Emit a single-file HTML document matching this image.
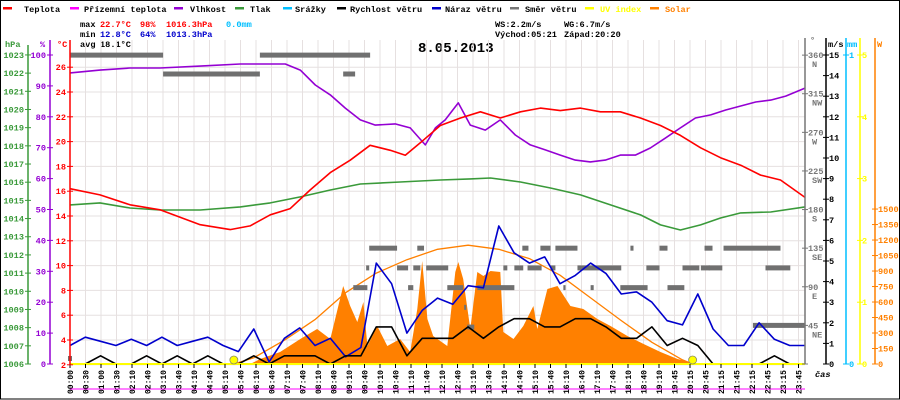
<!DOCTYPE html>
<html><head><meta charset="utf-8"><style>
html,body{margin:0;padding:0;background:#fff}
svg{display:block}
text{font-family:"Liberation Mono",monospace;font-weight:bold;font-size:8.6px}
</style></head><body>
<svg id="chart" width="900" height="400" viewBox="0 0 900 400" xmlns="http://www.w3.org/2000/svg">
<rect x="0.5" y="0.5" width="899" height="398.5" fill="#fff" stroke="#000" stroke-width="1"/>
<g>
 <g><rect x="3" y="7" width="9" height="2.5" fill="#f00"/><text x="24" y="12">Teplota</text></g>
 <g><rect x="70" y="7" width="9" height="2.5" fill="#f0f"/><text x="84" y="12">Přízemní teplota</text></g>
 <g><rect x="174" y="7" width="9" height="2.5" fill="#9400d3"/><text x="190" y="12">Vlhkost</text></g>
 <g><rect x="235" y="7" width="9" height="2.5" fill="#3a9a3a"/><text x="250" y="12">Tlak</text></g>
 <g><rect x="283" y="7" width="9" height="2.5" fill="#00bfff"/><text x="295" y="12">Srážky</text></g>
 <g><rect x="337" y="7" width="9" height="2.5" fill="#000"/><text x="350" y="12">Rychlost větru</text></g>
 <g><rect x="432" y="7" width="9" height="2.5" fill="#0000cc"/><text x="445" y="12">Náraz větru</text></g>
 <g><rect x="510" y="7" width="9" height="2.5" fill="#777"/><text x="525" y="12">Směr větru</text></g>
 <g><rect x="585" y="7" width="9" height="2.5" fill="#ff0"/><text x="600" y="12" fill="#ff0">UV index</text></g>
 <g><rect x="650" y="7" width="9" height="2.5" fill="#ff8000"/><text x="665" y="12" fill="#ff8000">Solar</text></g>
</g>
<g>
 <text x="80" y="27">max</text><text x="100" y="27" fill="#f00">22.7°C</text><text x="140" y="27" fill="#f00">98%</text><text x="166" y="27" fill="#f00">1016.3hPa</text><text x="226" y="27" fill="#00bfff">0.0mm</text>
 <text x="80" y="37">min</text><text x="100" y="37" fill="#0000cc">12.8°C</text><text x="140" y="37" fill="#0000cc">64%</text><text x="166" y="37" fill="#0000cc">1013.3hPa</text>
 <text x="80" y="47">avg</text><text x="100" y="47">18.1°C</text>
 <text x="495" y="27">WS:2.2m/s</text><text x="564" y="27">WG:6.7m/s</text>
 <text x="495" y="37">Východ:05:21</text><text x="564" y="37">Západ:20:20</text>
</g>
<text x="418" y="52" style="font-size:14px">8.05.2013</text>
<g>
 <text x="5" y="47" fill="#3a9a3a">hPa</text><text x="40" y="47" fill="#9400d3">%</text><text x="57" y="47" fill="#f00">°C</text>
 <text x="810" y="43" fill="#777">°</text><text x="828" y="47">m/s</text><text x="847" y="47" fill="#00bfff">mm</text><text x="877" y="47" fill="#ff8000">W</text>
 <text x="815" y="377" style="font-style:italic">čas</text>
</g>
<g id="grid"></g><g id="marks"></g><g id="axes"></g>
</svg>
<script>
const temperatureHours=[0,0.98,1.96,2.94,4.25,5.23,5.88,6.54,7.19,7.84,8.5,9.15,9.8,10.46,10.95,11.44,12.09,12.75,13.4,14.05,14.71,15.36,16.01,16.67,17.32,17.97,18.63,19.28,19.93,20.59,21.24,21.9,22.55,23.2,24];
const temperatureValues=[16.2,15.7,14.9,14.5,13.3,12.9,13.2,14.1,14.6,16.1,17.5,18.5,19.7,19.3,18.9,19.9,21.3,21.9,22.4,21.9,22.4,22.7,22.5,22.7,22.4,22.4,21.9,21.3,20.5,19.5,18.7,18.1,17.3,16.9,15.5];
const humidityHours=[0,0.98,1.96,2.94,4.25,5.56,6.54,7.03,7.52,8.01,8.5,8.99,9.48,9.97,10.62,11.11,11.6,11.93,12.25,12.68,13.07,13.56,14.05,14.54,15.03,15.52,16.01,16.5,16.99,17.48,17.97,18.46,18.95,19.44,19.93,20.42,20.92,21.41,21.9,22.39,22.88,23.37,24];
const humidityValues=[94.2,95.1,95.8,95.8,96.4,97.1,97.1,97.1,95.1,90.3,87.1,82.8,79,77.3,77.7,76.4,70.9,76.4,79,84.5,77.3,75.7,79,74.1,70.9,69.3,67.6,66,65.4,66,67.6,67.6,69.9,73.1,76.4,79.6,80.6,82.2,83.5,84.8,85.4,86.7,89.3];
const pressureHours=[0,0.98,1.96,2.94,4.25,5.56,6.54,7.52,8.5,9.48,10.78,12.09,13.07,13.73,14.71,15.69,16.67,17.65,18.63,19.28,19.93,20.59,21.24,21.9,22.88,24];
const pressureValues=[1014.75,1014.86,1014.58,1014.47,1014.47,1014.64,1014.86,1015.19,1015.57,1015.9,1016.01,1016.12,1016.18,1016.23,1016.01,1015.68,1015.3,1014.75,1014.2,1013.65,1013.37,1013.65,1014.03,1014.31,1014.36,1014.64];
const windSpeedValues=[0,0,0.4,0,0,0.4,0,0.4,0,0.4,0,0,0.4,0,0.4,0.4,0.4,0,0.4,0.4,1.8,1.8,0.4,1.25,1.25,1.25,1.8,1.25,1.8,2.2,2.2,1.8,1.8,2.2,2.2,1.8,1.25,1.25,1.8,0.9,1.25,0.9,0,0,0,0,0.4,0,0];
const windGustValues=[0.9,1.3,1.1,0.9,1.2,0.9,1.3,0.9,1.1,1.3,0.9,0.6,1.7,0.1,1.25,1.75,0.9,1.25,0.35,0.8,4.9,3.9,1.5,2.6,3.2,2.9,3.8,3.7,6.7,5.4,4.9,5.2,3.9,4.3,4.9,4.4,3.4,3.5,3.0,2.1,1.9,3.4,1.7,0.9,0.9,2.0,1.2,0.9,0.9];
const solarHours=[5.88,6.21,6.86,7.52,8.07,8.5,8.92,9.15,9.38,9.58,9.71,10.03,10.36,10.78,11.11,11.34,11.5,11.67,11.86,12.32,12.58,12.68,12.84,13.07,13.3,13.5,13.73,14.05,14.15,14.48,14.8,15.13,15.26,15.59,15.92,16.34,16.76,17.22,17.65,18.2,18.73,19.28,19.84,20.36,20.59];
const solarValues=[0,48,116,242,339,242,755,561,407,600,174,368,174,242,116,532,997,436,271,174,891,987,823,339,891,852,900,891,310,242,368,561,339,726,755,561,532,436,368,271,194,116,48,10,0];
const clearSkyHours=[5.35,6,7,7.5,8,9,10,11,12,13,14,15,16,17,18,19,20,20.33];
const clearSkyValues=[0,60,230,330,430,690,880,1010,1110,1150,1110,1020,860,640,420,210,40,0];
const dirStartHours=[0,6.2,3.04,8.92,9.77,11.34,14.77,15.36,15.85,18.3,19.25,20.72,21.34,9.67,10.68,11.21,11.63,14.15,14.51,14.94,15.69,16.57,18.82,20.0,20.6,20.85,22.71,9.25,11.04,12.32,13.3,16.11,17.0,17.97,19.51,12.97,12.87,22.3];
const dirEndHours=[3.04,9.8,6.2,9.31,10.68,11.56,14.97,15.69,16.57,18.4,19.51,20.98,23.2,9.77,11.04,11.44,12.35,14.28,14.8,15.4,15.85,18.0,19.25,20.55,20.9,21.3,23.52,9.71,11.21,12.84,14.51,16.18,17.1,18.86,20.06,13.2,12.94,24];
const dirDegrees=[360,360,338,338,135,135,135,135,135,135,135,135,135,112,112,112,112,112,112,112,112,112,112,112,112,112,112,89,89,89,89,89,89,89,89,43,66,45];
const timeLabels=["00:00","00:30","01:00","01:30","02:10","02:40","03:10","03:40","04:10","04:40","05:10","05:40","06:10","06:40","07:10","07:40","08:10","08:40","09:10","09:40","10:10","10:40","11:10","11:40","12:10","12:40","13:10","13:40","14:10","14:40","15:10","15:40","16:10","16:40","17:10","17:40","18:10","18:40","19:10","19:45","20:15","20:45","21:15","21:45","22:15","22:45","23:15","23:45"];
const sunEventHours=[5.35,20.33];
const pressureTicks=[1006,1007,1008,1009,1010,1011,1012,1013,1014,1015,1016,1017,1018,1019,1020,1021,1022,1023];
const humidityTicks=[0,10,20,30,40,50,60,70,80,90,100];
const tempTicks=[2,4,6,8,10,12,14,16,18,20,22,24,26];
const dirTicks=[45,90,135,180,225,270,315,360];
const dirNames=["NE","E","SE","S","SW","W","NW","N"];
const speedTicks=[0,1,2,3,4,5,6,7,8,9,10,11,12,13,14,15];
const rainTicks=[0,1];
const uvTicks=[0,1,2,3,4,5];
const solarTicks=[0,150,300,450,600,750,900,1050,1200,1350,1500];

const NS="http://www.w3.org/2000/svg";
const xOf=h=>70+h*735/24;
const yT=t=>364.8-(t-2)*12.4;
const yH=p=>364-p*3.09;
const yP=v=>364-(v-1006)*18.18;
const yV=v=>364-v*20.6;
const yDeg=d=>364-d*0.858;
const yW=w=>364-w*0.1033;
const yUV=u=>364-u*61.8;
const yMM=m=>364-m*309;
function mk(tag,attrs,parent){const e=document.createElementNS(NS,tag);for(const k in attrs)e.setAttribute(k,attrs[k]);parent.appendChild(e);return e;}
const grid=document.getElementById('grid'),marks=document.getElementById('marks'),axes=document.getElementById('axes');

timeLabels.forEach((lab,i)=>{const x=70+i*15.5;
 const g=mk('line',{x1:x,x2:x,y1:40,y2:364,stroke:'#e6e0e0','stroke-width':1},grid);
 
 
 const tk=mk('line',{x1:x,x2:x,y1:364,y2:368,stroke:'#000'},axes);
 
 
 const t=mk('text',{x:0,y:0,'text-anchor':'end',transform:`translate(${x+3},370) rotate(-90)`,style:'font-size:8px'},axes);
 t.textContent=lab;
 
 
});
tempTicks.forEach(v=>{const y=yT(v);
 const g=mk('line',{x1:70,x2:805,y1:y,y2:y,stroke:'#e6e0e0'},grid);
 
 
});

function line(hs,vs,yf,color,w,name){
 const pts=hs.map((h,i)=>xOf(h).toFixed(1)+','+yf(vs[i]).toFixed(1)).join(' ');
 const p=mk('polyline',{points:pts,fill:'none',stroke:color,'stroke-width':w,'stroke-linejoin':'round'},marks);
 
 
 return p;
}
const halfHours=windGustValues.map((v,i)=>i/2);

{const pts=solarHours.map((h,i)=>xOf(h).toFixed(1)+','+yW(solarValues[i]).toFixed(1));
 pts.push(xOf(solarHours[solarHours.length-1]).toFixed(1)+',364',xOf(solarHours[0]).toFixed(1)+',364');
 const p=mk('polygon',{points:pts.join(' '),fill:'#ff8000'},marks);
 
 }
line(clearSkyHours,clearSkyValues,yW,'#ff8000',1.3,'solar-clear-sky-line');

dirDegrees.forEach((d,i)=>{const y=yDeg(d);
 const r=mk('rect',{x:xOf(dirStartHours[i]),y:y-2.5,width:Math.max(2,xOf(dirEndHours[i])-xOf(dirStartHours[i])),height:5,fill:'#707070'},marks);
 
 });

line(pressureHours,pressureValues,yP,'#3a9a3a',1.6,'pressure-line');
line(humidityHours,humidityValues,yH,'#9400d3',1.6,'humidity-line');
line(temperatureHours,temperatureValues,yT,'#f00',1.6,'temperature-line');
line(halfHours,windGustValues,yV,'#0000cc',1.6,'wind-gust-line');
line(windSpeedValues.map((v,i)=>i/2),windSpeedValues,yV,'#000',1.6,'wind-speed-line');

{const u=mk('line',{x1:70,x2:805,y1:yUV(0),y2:yUV(0),stroke:'#ff0','stroke-width':2},marks);
 
 
 const m=mk('line',{x1:70,x2:805,y1:389,y2:389,stroke:'#f0f','stroke-width':1},marks);
 
 }
sunEventHours.forEach(h=>{const c=mk('circle',{cx:xOf(h),cy:360,r:4,fill:'#ff0',stroke:'#886',"stroke-width":0.8},marks);
 
 });
{const s=mk('rect',{x:68,y:356,width:4,height:5,fill:'#707070'},marks);
 
 }

function axis(x,y1,color,ticks,yf,labX,anchor,name,fmt){
 const l=mk('line',{x1:x,x2:x,y1:y1,y2:364,stroke:color,'stroke-width':1.5},axes);
 
 
 ticks.forEach((v,i)=>{const y=yf(v);
  const t=mk('line',{x1:x-3,x2:x+3,y1:y,y2:y,stroke:color},axes);
  
  
  const tx=mk('text',{x:labX,y:y+3,fill:color,'text-anchor':anchor},axes);
  tx.textContent=fmt?fmt(v,i):v;
  
  });
}
axis(28,45,'#3a9a3a',pressureTicks,yP,24,'end','pressure-axis');
axis(50,40,'#9400d3',humidityTicks,yH,46,'end','humidity-axis');
axis(70,40,'#f00',tempTicks,yT,66,'end','temperature-axis');
axis(805,38,'#777',[0].concat(dirTicks),yDeg,808,'start','direction-axis',v=>v===0?'':v);
dirTicks.forEach((d,i)=>{const t=mk('text',{x:812,y:yDeg(d)+12,fill:'#777'},axes);
 t.textContent=dirNames[i];
 
 });
axis(826,38,'#000',speedTicks,yV,829,'start','wind-speed-axis');
axis(846,38,'#00bfff',rainTicks,yMM,849,'start','rain-axis');
axis(860,38,'#ff0',uvTicks,yUV,862,'start','uv-axis');
axis(875,38,'#ff8000',solarTicks,yW,878,'start','solar-axis');
</script>
</body></html>
